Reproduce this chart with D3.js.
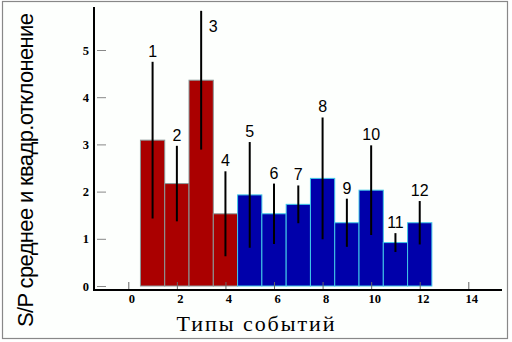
<!DOCTYPE html>
<html>
<head>
<meta charset="utf-8">
<script src="https://cdn.jsdelivr.net/npm/d3@7"></script>
<style>
  html, body { margin: 0; padding: 0; background: #ffffff; }
  svg { display: block; }
</style>
</head>
<body>
<script>
// ---- data ----
const categories = [1, 2, 3, 4, 5, 6, 7, 8, 9, 10, 11, 12];
const means = [3.09, 2.17, 4.36, 1.53, 1.93, 1.53, 1.73, 2.28, 1.34, 2.03, 0.92, 1.34];
const sds   = [1.66, 0.80, 1.47, 0.90, 1.12, 0.64, 0.40, 1.29, 0.51, 0.95, 0.20, 0.46];
const groups = ["A", "A", "A", "A", "B", "B", "B", "B", "B", "B", "B", "B"];
const xTicks = [0, 2, 4, 6, 8, 10, 12, 14];
const yTicks = [0, 1, 2, 3, 4, 5];
const xTitle = "Типы событий";
const yTitle = "S/P среднее и квадр.отклонение";

const W = 512, H = 342;
const svg = d3.select("body").append("svg").attr("width", W).attr("height", H);

// frame
svg.append("rect").attr("x", 2.5).attr("y", 1.5).attr("width", 505).attr("height", 337)
  .attr("fill", "#fdfffd").attr("stroke", "#888").attr("stroke-width", 1.2);

const x = d3.scaleLinear().domain([0, 14]).range([128.3, 468.3]);
const y = d3.scaleLinear().domain([0, 5]).range([286, 50]);
const fill = d3.scaleOrdinal().domain(["A", "B"]).range(["#aa0000", "#0000aa"]);
const edge = d3.scaleOrdinal().domain(["A", "B"]).range(["#8a9a9a", "#40c8e8"]);

const data = categories.map((c, i) => ({ c, m: means[i], s: sds[i], g: groups[i] }));

// bars
svg.append("g").selectAll("rect").data(data).join("rect")
  .attr("x", d => x(d.c - 0.5))
  .attr("y", d => y(d.m))
  .attr("width", d => x(d.c + 0.5) - x(d.c - 0.5))
  .attr("height", d => y(0) - y(d.m))
  .attr("fill", d => fill(d.g))
  .attr("stroke", d => edge(d.g))
  .attr("stroke-width", 1);

const tickFont = "'Liberation Serif', 'Times New Roman', serif";

// x axis (ticks go upward)
const xAxis = d3.axisBottom(x).tickValues(xTicks).tickSize(-8).tickPadding(4).tickFormat(d3.format("d"));
const gx = svg.append("g").attr("transform", "translate(0,290)").call(xAxis);
gx.select(".domain").remove();
gx.selectAll(".tick line").attr("stroke", "#666").attr("stroke-width", 1);
gx.selectAll(".tick text").attr("x", 3).attr("fill", "#000")
  .style("font-family", tickFont).style("font-size", "12.5px").style("font-weight", "bold");

// y axis
const yAxis = d3.axisLeft(y).tickValues(yTicks).tickSize(9).tickPadding(8).tickFormat(d3.format("d"));
const gy = svg.append("g").attr("transform", "translate(106,0)").call(yAxis);
gy.select(".domain").remove();
gy.selectAll(".tick line").attr("stroke", "#888").attr("stroke-width", 1);
gy.selectAll(".tick text").attr("fill", "#000")
  .style("font-family", tickFont).style("font-size", "12.5px").style("font-weight", "bold");

// axis lines
svg.append("line").attr("x1", 94).attr("x2", 94).attr("y1", 7).attr("y2", 291)
  .attr("stroke", "#000").attr("stroke-width", 2);
svg.append("line").attr("x1", 93).attr("x2", 502).attr("y1", 290).attr("y2", 290)
  .attr("stroke", "#000").attr("stroke-width", 2);

// error bars
svg.append("g").selectAll("line").data(data).join("line")
  .attr("x1", d => x(d.c)).attr("x2", d => x(d.c))
  .attr("y1", d => y(d.m + d.s)).attr("y2", d => y(d.m - d.s))
  .attr("stroke", "#000").attr("stroke-width", 2);

// number labels
svg.append("g").selectAll("text").data(data).join("text")
  .attr("x", d => {
    const top = y(d.m + d.s);
    return top - 18 < 8 ? x(d.c) + 12 : x(d.c);
  })
  .attr("y", d => {
    const top = y(d.m + d.s);
    return top - 18 < 8 ? top + 21 : top - 5;
  })
  .attr("text-anchor", "middle")
  .style("font-family", "'Liberation Sans', Arial, sans-serif")
  .style("font-size", "16px")
  .attr("fill", "#000")
  .text(d => d.c);

// titles
svg.append("text")
  .attr("x", 176.5).attr("y", 331)
  .attr("textLength", 158).attr("lengthAdjust", "spacing")
  .style("font-family", "'Liberation Serif', 'Times New Roman', serif")
  .style("font-size", "22px")
  .attr("fill", "#000")
  .text(xTitle);

svg.append("text")
  .attr("transform", "translate(33,170) rotate(-90)")
  .attr("text-anchor", "middle")
  .attr("textLength", 314).attr("lengthAdjust", "spacing")
  .style("font-family", "'Liberation Sans', Arial, sans-serif")
  .style("font-size", "22px")
  .attr("fill", "#000")
  .text(yTitle);
</script>
</body>
</html>
